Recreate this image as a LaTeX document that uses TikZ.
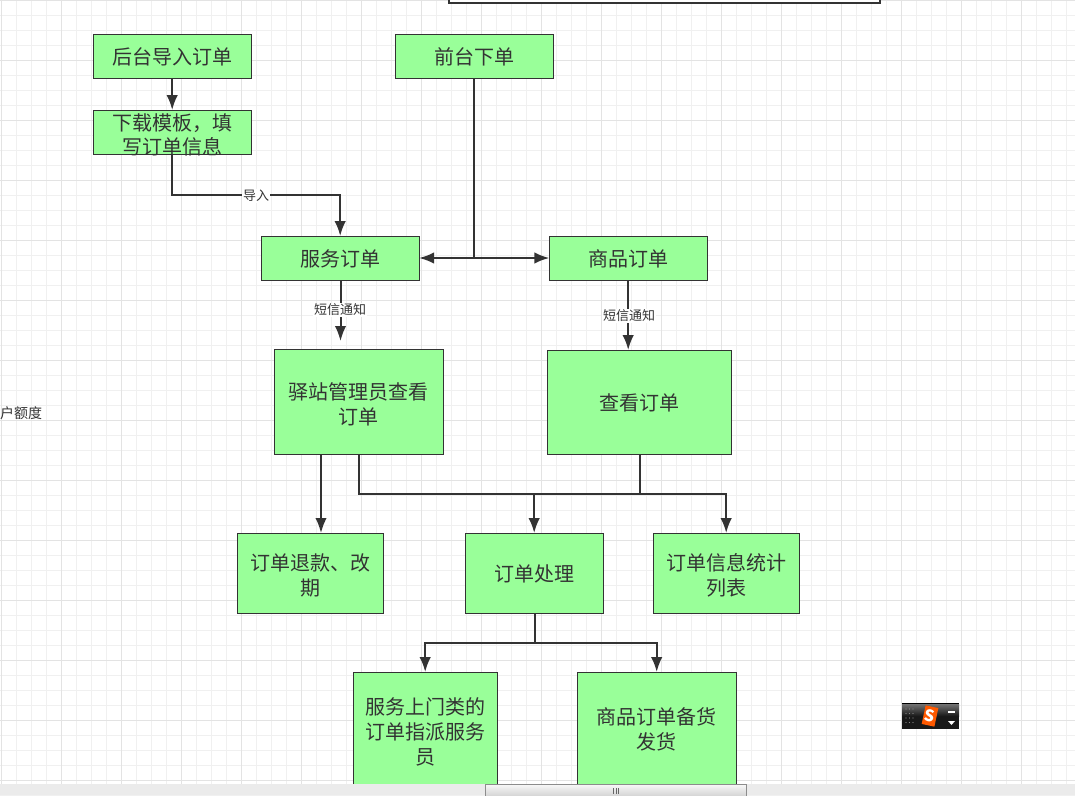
\documentclass[tikz,border=0pt]{standalone}
\usepackage{fontspec}
\setmainfont{Noto Sans CJK SC}
\usetikzlibrary{arrows.meta}
\definecolor{boxgreen}{HTML}{99FF99}
\definecolor{inkgray}{HTML}{333333}
\newcommand{\lift}{\rule{0pt}{22pt}}
\newcommand{\liftone}{\rule{0pt}{19.5pt}}
\tikzset{
  orderbox/.style={draw=inkgray,line width=1pt,fill=boxgreen,text=inkgray,inner sep=0pt,outer sep=0pt,
    align=center,font=\fontsize{20}{25}\selectfont},
  flow/.style={draw=inkgray,line width=2pt},
  flowtip/.style={flow,-{Latex[length=15pt,width=11.5pt]}},
  edgelabel/.style={fill=white,text=inkgray,inner sep=1pt,font=\fontsize{13}{15}\selectfont}
}
\begin{document}
\begin{tikzpicture}[x=1pt,y=-1pt]
  \useasboundingbox (0,0) rectangle (1075,795);
  \clip (0,0) rectangle (1075,795);
  \fill[white] (0,0) rectangle (1075,795);

  \foreach \x in {1.5,16.5,...,1075} \draw[line width=1pt,draw=black!6] (\x,0) -- (\x,795);
  \foreach \y in {0,15,...,795} \draw[line width=1pt,draw=black!6] (0,\y) -- (1075,\y);
  \foreach \x in {1.5,61.5,...,1075} \draw[line width=1pt,draw=black!11] (\x,0) -- (\x,795);
  \foreach \y in {0,60,...,795} \draw[line width=1pt,draw=black!11] (0,\y) -- (1075,\y);

  \draw[line width=2pt,draw=inkgray,fill=white] (448.5,-10) rectangle (880,2.5);

  \node (houtai) at (172.2,56) [orderbox,minimum width=157.8pt,minimum height=44pt] {\liftone 后台导入订单};
  \node (xiazai) at (172.2,132) [orderbox,minimum width=157.8pt,minimum height=44pt,inner ysep=-4pt,font=\fontsize{20}{24}\selectfont] {\lift 下载模板，填\\写订单信息};
  \node (qiantai) at (474.2,56) [orderbox,minimum width=157.8pt,minimum height=44pt] {\liftone 前台下单};
  \node (fuwu) at (340.2,258) [orderbox,minimum width=157.8pt,minimum height=44pt] {\liftone 服务订单};
  \node (shangpin) at (628.2,258) [orderbox,minimum width=157.8pt,minimum height=44pt] {\liftone 商品订单};
  \node (yizhan) at (358.7,401.5) [orderbox,minimum width=168.8pt,minimum height=105pt] {\lift 驿站管理员查看\\订单};
  \node (chakan) at (639.2,402) [orderbox,minimum width=183.8pt,minimum height=104pt] {\liftone 查看订单};
  \node (tuikuan) at (310.2,573) [orderbox,minimum width=145.8pt,minimum height=80pt] {\lift 订单退款、改\\期};
  \node (chuli) at (534.2,573) [orderbox,minimum width=137.8pt,minimum height=80pt] {\liftone 订单处理};
  \node (tongji) at (726.2,573) [orderbox,minimum width=145.8pt,minimum height=80pt] {\lift 订单信息统计\\列表};
  \node (shangmen) at (425.2,732) [orderbox,minimum width=143.8pt,minimum height=120pt] {服务上门类的\\订单指派服务\\员};
  \node (beihuo) at (656.7,729) [orderbox,minimum width=158.8pt,minimum height=114pt] {商品订单备货\\发货};

  \coordinate (duanxin) at (340.5,341);
  \coordinate (tuikuanin) at (321,533);
  \coordinate (daoru) at (256,195);
  \coordinate (heji) at (640,493.5);
  \coordinate (fenpai) at (535,643);

  \draw[flowtip] (houtai) -- (xiazai);
  \draw[flowtip] (xiazai.south) |- (daoru) -| (fuwu.north);
  \node (daorulabel) at (256,196) [edgelabel] {导入};

  \draw[flow] (qiantai.south) -- (qiantai.south |- fuwu.east);
  \draw[flowtip] (qiantai.south |- fuwu.east) -- (fuwu.east);
  \draw[flowtip] (qiantai.south |- fuwu.east) -- (shangpin.west);

  \draw[flowtip] (fuwu.south -| duanxin) -- (duanxin);
  \node (fuwulabel) at (340,310) [edgelabel] {短信通知};
  \draw[flowtip] (shangpin.south) -- (shangpin.south |- chakan.north);
  \node (shangpinlabel) at (629,316) [edgelabel] {短信通知};

  \draw[flowtip] (yizhan.south -| tuikuanin) -- (tuikuanin);
  \draw[flow] (yizhan.south) |- (chuli.north |- heji) -- (heji);
  \draw[flow] (chakan.south -| heji) -- (heji);
  \draw[flowtip] (chuli.north |- heji) -- (chuli.north);
  \draw[flowtip] (heji) -| (tongji.north);

  \draw[flow] (chuli.south -| fenpai) -- (fenpai);
  \draw[flowtip] (fenpai) -| (shangmen.north);
  \draw[flowtip] (fenpai) -| (beihuo.north);

  \node (edu) at (21,413) [text=inkgray,inner sep=0pt,font=\fontsize{14}{16}\selectfont] {户额度};

  \fill[black!8] (0,783.5) rectangle (1075,795);
  \draw[line width=1pt,draw=black!45,top color=black!3,bottom color=black!22] (485.5,784.5) rectangle (746,800);
  \foreach \x in {613.5,616,618.5} \draw[line width=.8pt,draw=black!60] (\x,788) -- (\x,794);

  \fill[black!90] (902,703) rectangle (959,729);
  \fill[top color=black!55,bottom color=black!90] (902,704) rectangle (959,716);
  \draw[line width=1pt,draw=black] (902,703) -- (959,703);
  \foreach \x in {906,909.5,913} \foreach \y in {709,713.5,718,722.5} \fill[black!45] (\x,\y) circle (.6);
  \node (sogou) at (930,716) [fill=orange!70!red,text=white,rotate=-12,inner sep=0pt,minimum width=13pt,minimum height=19pt,font=\bfseries\fontsize{16}{16}\selectfont] {S};
  \fill[white] (948,710.5) rectangle (955,713);
  \fill[white] (948,721) -- (955,721) -- (951.5,725) -- cycle;
\end{tikzpicture}
\end{document}
